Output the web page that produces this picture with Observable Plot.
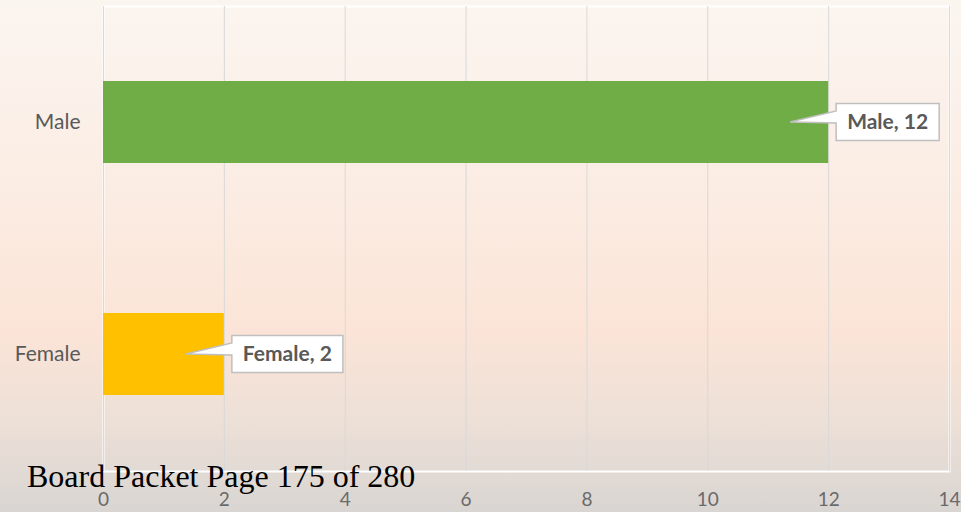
<!DOCTYPE html>
<html>
<head>
<meta charset="utf-8">
<script src="https://cdn.jsdelivr.net/npm/d3@7"></script>
<script src="https://cdn.jsdelivr.net/npm/@observablehq/plot@0.6"></script>
<style>
  html, body { margin: 0; padding: 0; }
  body {
    width: 961px; height: 512px; overflow: hidden; position: relative;
    background: linear-gradient(to bottom, #fbf5f0 0%, #fbede4 35%, #fbe4d7 65%, #ede0d7 82%, #d9d5d2 100%);
  }
  #chart svg { display: block; background: transparent; }
  #footer {
    position: absolute; left: 27px; top: 460px;
    font-family: "Liberation Serif", "Times New Roman", serif;
    font-size: 32px; line-height: 1; color: #000; white-space: nowrap;
  }
</style>
</head>
<body>
<div id="chart"></div>
<div id="footer">Board Packet Page 175 of 280</div>
<script>
const categories = ["Male", "Female"];
const values = [12, 2];
const colors = ["#70ad47", "#ffc000"];
const xTicks = [0, 2, 4, 6, 8, 10, 12, 14];

const data = categories.map((c, i) => ({category: c, value: values[i], color: colors[i]}));

const plot = Plot.plot({
  width: 961,
  height: 512,
  marginLeft: 103,
  marginRight: 12,
  marginTop: 6,
  marginBottom: 41,
  style: {background: "transparent", fontFamily: "Lato, 'Open Sans', sans-serif", fontSize: "19px"},
  x: {domain: [0, 14], ticks: xTicks, tickSize: 0, tickPadding: 21, label: null},
  y: {domain: categories, paddingInner: 0.645, paddingOuter: 0.3225, label: null, tickSize: 0, tickPadding: 23},
  marks: [
    Plot.frame({stroke: "#ffffff", strokeWidth: 2}),
    Plot.gridX(xTicks, {stroke: "#d9d9d9", strokeOpacity: 1, strokeWidth: 1}),
    Plot.barX(data, {x: "value", y: "category", fill: "color"}),
    Plot.axisX({ticks: xTicks, tickSize: 0, tickPadding: 21, fontSize: 19, fill: "#6a6a6a", label: null}),
    Plot.axisY({tickSize: 0, tickPadding: 23, fontSize: 21, fill: "#595959", label: null})
  ]
});

document.getElementById("chart").appendChild(plot);

// Data-label callouts positioned via the plot's own scales
const xs = plot.scale("x");
const ys = plot.scale("y");
const svg = d3.select(plot);
const g = svg.append("g");
data.forEach(d => {
  const xEnd = xs.apply(d.value);
  const yc = ys.apply(d.category) + ys.bandwidth / 2;
  const label = `${d.category}, ${d.value}`;
  const boxX = xEnd + 8;
  const tipX = xEnd - 38;
  const grp = g.append("g");
  const txt = grp.append("text")
    .attr("x", 0).attr("y", 0)
    .attr("font-family", "Lato, 'Open Sans', sans-serif")
    .attr("font-weight", "bold")
    .attr("font-size", 21)
    .attr("fill", "#595959")
    .text(label);
  const w = txt.node().getComputedTextLength() + 22;
  const h = 37;
  const top = yc - h / 2;
  const path = [
    [boxX, top], [boxX + w, top], [boxX + w, top + h], [boxX, top + h],
    [boxX, yc + 1], [tipX, yc], [boxX, yc - 11], [boxX, top]
  ];
  grp.insert("path", "text")
    .attr("d", "M" + path.map(p => p.join(",")).join("L") + "Z")
    .attr("fill", "#ffffff")
    .attr("stroke", "#bfbfbf")
    .attr("stroke-width", 1.5);
  txt.attr("x", boxX + w / 2).attr("y", yc + 7).attr("text-anchor", "middle");
});
</script>
</body>
</html>
